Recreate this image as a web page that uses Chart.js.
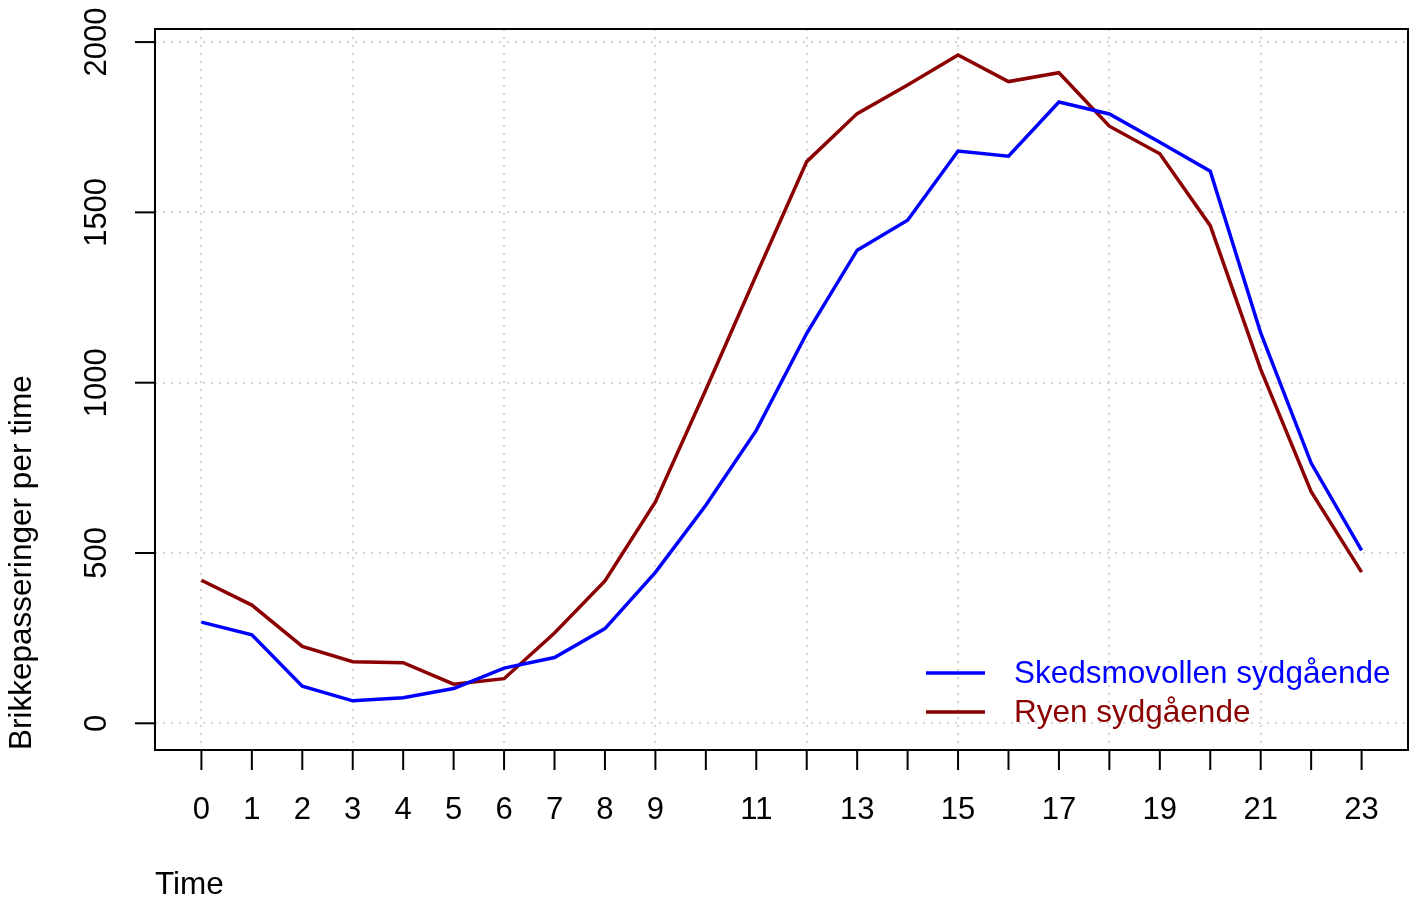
<!DOCTYPE html>
<html>
<head>
<meta charset="utf-8">
<script src="https://cdn.jsdelivr.net/npm/chart.js@4/dist/chart.umd.min.js"></script>
<style>
  html, body { margin: 0; padding: 0; background: #fff; }
  canvas { display: block; }
</style>
</head>
<body>
<canvas id="chart" width="1417" height="905"></canvas>
<script>
// timer på døgnet
const hours = [0, 1, 2, 3, 4, 5, 6, 7, 8, 9, 10, 11, 12, 13, 14, 15, 16, 17, 18, 19, 20, 21, 22, 23];
// passeringer per time
const skedsmovollen = [297, 260, 109, 66, 75, 102, 162, 193, 278, 443, 640, 860, 1145, 1389, 1477, 1680, 1665, 1824, 1789, 1706, 1621, 1146, 764, 508];
const ryen = [420, 347, 226, 181, 178, 115, 131, 265, 418, 650, 979, 1316, 1649, 1790, 1874, 1962, 1884, 1910, 1753, 1672, 1461, 1039, 680, 444];
const seriesNames = ['Skedsmovollen sydgående', 'Ryen sydgående'];
const seriesColors = ['#0000FF', '#8B0000'];
const xTickLabels = ['0', '1', '2', '3', '4', '5', '6', '7', '8', '9', '11', '13', '15', '17', '19', '21', '23'];
const yTicks = [0, 500, 1000, 1500, 2000];
const xGrid = [0, 3, 6, 9, 12, 15, 18, 21];

const TICK_FONT = '31px "Liberation Sans", Arial, sans-serif';
const LAB_FONT = '31.5px "Liberation Sans", Arial, sans-serif';

// R-aktig akse, rutenett, boks og forklaring
const rAxes = {
  id: 'rAxes',
  beforeDatasetsDraw(chart) {
    const { ctx, chartArea: a, scales: { x, y } } = chart;
    ctx.save();
    ctx.strokeStyle = '#D3D3D3';
    ctx.lineWidth = 2;
    ctx.setLineDash([2, 6]);
    xGrid.forEach(v => {
      const px = Math.round(x.getPixelForValue(v));
      ctx.beginPath(); ctx.moveTo(px, a.top); ctx.lineTo(px, a.bottom); ctx.stroke();
    });
    yTicks.forEach(v => {
      const py = Math.round(y.getPixelForValue(v));
      ctx.beginPath(); ctx.moveTo(a.left, py); ctx.lineTo(a.right, py); ctx.stroke();
    });
    ctx.restore();
  },
  afterDatasetsDraw(chart) {
    const { ctx, chartArea: a, scales: { x, y } } = chart;
    ctx.save();
    ctx.strokeStyle = '#000';
    ctx.lineWidth = 2;
    ctx.setLineDash([]);
    ctx.strokeRect(a.left, a.top, a.right - a.left, a.bottom - a.top);

    // x-ticks for hver time
    ctx.fillStyle = '#000';
    ctx.font = TICK_FONT;
    ctx.textAlign = 'center';
    ctx.textBaseline = 'middle';
    hours.forEach(h => {
      const px = x.getPixelForValue(h);
      ctx.beginPath(); ctx.moveTo(px, a.bottom); ctx.lineTo(px, a.bottom + 20); ctx.stroke();
      if (xTickLabels.includes(String(h))) ctx.fillText(String(h), px, 810);
    });

    // y-ticks, roterte etiketter
    yTicks.forEach(v => {
      const py = y.getPixelForValue(v);
      ctx.beginPath(); ctx.moveTo(a.left, py); ctx.lineTo(a.left - 20, py); ctx.stroke();
      ctx.save();
      ctx.translate(97, py);
      ctx.rotate(-Math.PI / 2);
      ctx.fillText(String(v), 0, 0);
      ctx.restore();
    });

    // aksetitler
    ctx.font = LAB_FONT;
    ctx.textAlign = 'left';
    ctx.fillText('Time', a.left, 885);
    ctx.save();
    ctx.translate(22, a.bottom);
    ctx.rotate(-Math.PI / 2);
    ctx.fillText('Brikkepasseringer per time', 0, 0);
    ctx.restore();

    // forklaring
    const legY = [673, 712];
    seriesNames.forEach((name, i) => {
      ctx.strokeStyle = seriesColors[i];
      ctx.lineWidth = 3.5;
      ctx.beginPath(); ctx.moveTo(926, legY[i]); ctx.lineTo(985, legY[i]); ctx.stroke();
      ctx.fillStyle = seriesColors[i];
      ctx.fillText(name, 1014, legY[i] + 1);
    });
    ctx.restore();
  }
};

const ctx = document.getElementById('chart').getContext('2d');
new Chart(ctx, {
  type: 'line',
  data: {
    datasets: [skedsmovollen, ryen].map((vals, i) => ({
      label: seriesNames[i],
      data: hours.map((h, j) => ({ x: h, y: vals[j] })),
      borderColor: seriesColors[i],
      borderWidth: 3.5,
      pointRadius: 0,
      tension: 0,
      fill: false
    }))
  },
  options: {
    responsive: false,
    animation: false,
    devicePixelRatio: 1,
    layout: { padding: { left: 155, right: 9, top: 29, bottom: 155 } },
    plugins: { legend: { display: false }, tooltip: { enabled: false } },
    scales: {
      x: { type: 'linear', min: -0.92, max: 23.92, display: false },
      y: { type: 'linear', min: -78.4, max: 2038.4, display: false }
    }
  },
  plugins: [rAxes]
});
</script>
</body>
</html>
